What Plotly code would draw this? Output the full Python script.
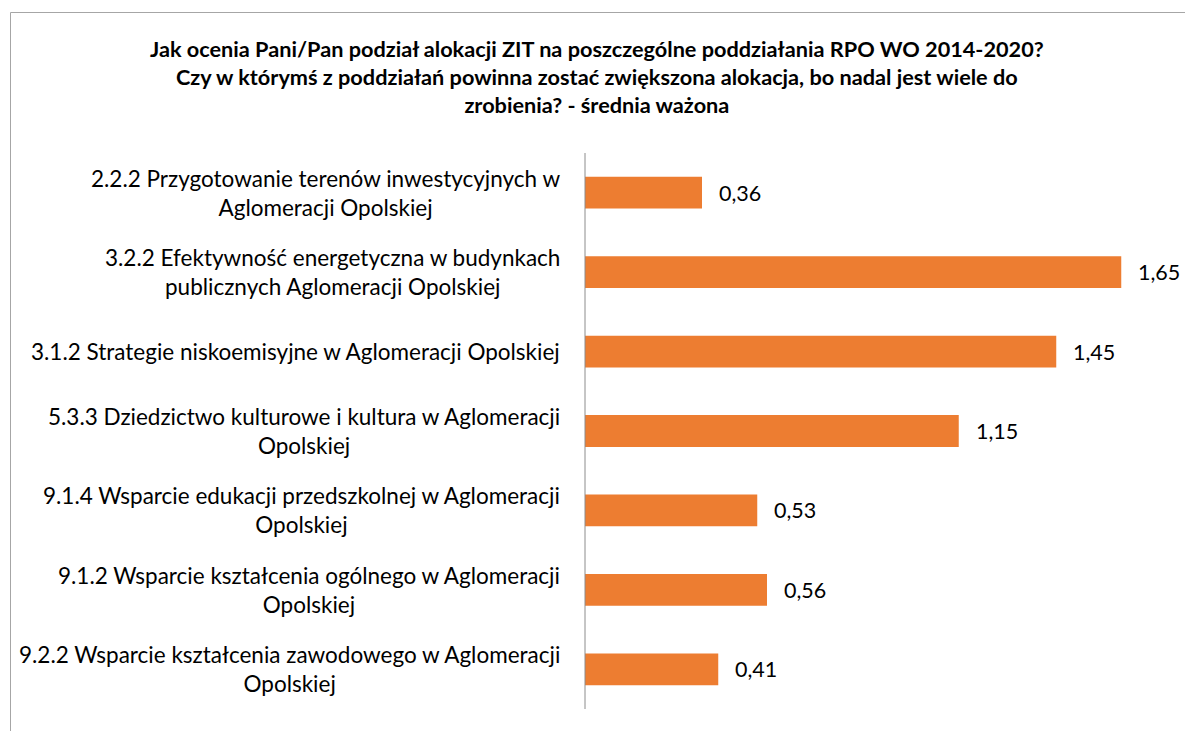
import plotly.graph_objects as go

categories = [
    "2.2.2 Przygotowanie terenów inwestycyjnych w<br>Aglomeracji Opolskiej",
    "3.2.2 Efektywność energetyczna w budynkach<br>publicznych Aglomeracji Opolskiej",
    "3.1.2 Strategie niskoemisyjne w Aglomeracji Opolskiej",
    "5.3.3 Dziedzictwo kulturowe i kultura w Aglomeracji<br>Opolskiej",
    "9.1.4 Wsparcie edukacji przedszkolnej w Aglomeracji<br>Opolskiej",
    "9.1.2 Wsparcie kształcenia ogólnego w Aglomeracji<br>Opolskiej",
    "9.2.2 Wsparcie kształcenia zawodowego w Aglomeracji<br>Opolskiej",
]
values = [0.36, 1.65, 1.45, 1.15, 0.53, 0.56, 0.41]
title_text = ("<b>Jak ocenia Pani/Pan podział alokacji ZIT na poszczególne poddziałania RPO WO 2014-2020?<br>"
              "Czy w którymś z poddziałań powinna zostać zwiększona alokacja, bo nadal jest wiele do<br>"
              "zrobienia? - średnia ważona</b>")

FONT = "Lato, 'Open Sans', sans-serif"
W, H = 1185, 731
L, R, T, B = 585, 15, 153, 22
pw = W - L - R
ph = H - T - B

def px_x(p):
    return (p - L) / pw

def px_y(p):
    return (H - B - p) / ph

fig = go.Figure(go.Bar(
    x=values, y=list(range(len(categories))), orientation="h",
    marker=dict(color="#ED7D31", line=dict(width=0)),
    width=0.4, hoverinfo="skip",
))

annotations = []
for i, (c, v) in enumerate(zip(categories, values)):
    annotations.append(dict(
        x=0, y=i, xref="x", yref="y", text=c, showarrow=False,
        xanchor="right", yanchor="middle", align="center", xshift=-23,
        font=dict(family=FONT, size=22.5, color="#000000"),
    ))
    annotations.append(dict(
        x=v, y=i, xref="x", yref="y", text=f"{v:.2f}".replace(".", ","),
        showarrow=False, xanchor="left", yanchor="middle", xshift=15,
        font=dict(family=FONT, size=21.5, color="#000000"),
    ))
annotations.append(dict(
    x=px_x(597), y=px_y(77), xref="paper", yref="paper", text=title_text,
    showarrow=False, xanchor="center", yanchor="middle", align="center",
    font=dict(family=FONT, size=21.7, color="#000000"),
))

fig.update_layout(
    width=W, height=H,
    margin=dict(l=L, r=R, t=T, b=B),
    paper_bgcolor="white", plot_bgcolor="white",
    showlegend=False,
    xaxis=dict(range=[0, 1.8], visible=False, fixedrange=True),
    yaxis=dict(range=[len(categories) - 0.5, -0.5], showticklabels=False,
               showgrid=False, zeroline=False, ticks="", fixedrange=True),
    annotations=annotations,
    shapes=[
        dict(type="line", xref="paper", yref="paper", x0=px_x(585), x1=px_x(585),
             y0=0, y1=1, line=dict(color="#8C8C8C", width=1)),
        dict(type="line", xref="paper", yref="paper", x0=px_x(10.5), x1=px_x(1200),
             y0=px_y(12.5), y1=px_y(12.5), line=dict(color="#A6A6A6", width=1)),
        dict(type="line", xref="paper", yref="paper", x0=px_x(10.5), x1=px_x(10.5),
             y0=px_y(12.5), y1=px_y(760), line=dict(color="#A6A6A6", width=1)),
    ],
)

fig.write_html(
    "out.html",
    config={"displayModeBar": False},
    post_script="document.body.style.margin='0';document.body.style.overflow='hidden';",
)
